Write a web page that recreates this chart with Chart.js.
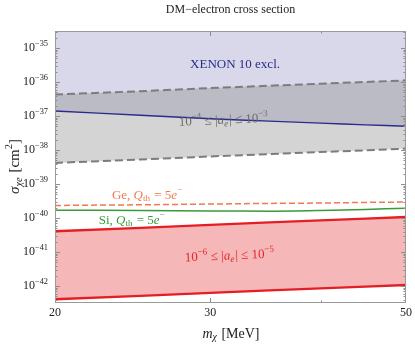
<!DOCTYPE html>
<html><head><meta charset="utf-8">
<script src="https://cdn.jsdelivr.net/npm/chart.js@4/dist/chart.umd.min.js"></script>
<style>html,body{margin:0;padding:0;background:#fff}#wrap{width:415px;height:345px}</style>
</head><body><div id="wrap"><canvas id="c" width="415" height="345"></canvas></div>
<script>
// Dark-matter mass grid (MeV)
const masses = [20, 25, 30, 35, 40, 45, 50];
// Cross sections (cm^2)
const xenonLimit = [1.41e-37, 1.05e-37, 8.32e-38, 7.08e-38, 6.17e-38, 5.50e-38, 5.01e-38];
const grayUpper  = [4.27e-37, 5.37e-37, 6.61e-37, 7.76e-37, 8.91e-37, 1.00e-36, 1.12e-36];
const grayLower  = [4.17e-39, 5.25e-39, 6.46e-39, 7.59e-39, 8.71e-39, 9.77e-39, 1.10e-38];
const geReach    = [2.34e-40, 2.45e-40, 2.57e-40, 2.69e-40, 2.75e-40, 2.88e-40, 2.95e-40];
const siReach    = [1.70e-40, 1.66e-40, 1.62e-40, 1.58e-40, 1.66e-40, 1.78e-40, 1.95e-40];
const redUpper   = [4.07e-41, 5.13e-41, 6.31e-41, 7.41e-41, 8.51e-41, 9.55e-41, 1.07e-40];
const redLower   = [4.07e-43, 5.13e-43, 6.31e-43, 7.41e-43, 8.51e-43, 9.55e-43, 1.07e-42];
// Axis ticks
const xTicks = [20, 30, 50];
const yTickExps = [-42, -41, -40, -39, -38, -37, -36, -35];

const pts = arr => masses.map((m, i) => ({x: m, y: arr[i]}));
const SERIF = '"Liberation Serif", "DejaVu Serif", serif';

function drawRich(ctx, segs, cx, cy, angle, size, color, align) {
  ctx.save();
  ctx.translate(cx, cy);
  ctx.rotate(angle * Math.PI / 180);
  ctx.fillStyle = color;
  ctx.textBaseline = 'middle';
  ctx.textAlign = 'left';
  const fontFor = s => {
    const sz = (s.sub || s.sup) ? size * 0.7 : size;
    return (s.it ? 'italic ' : '') + sz + 'px ' + SERIF;
  };
  let w = 0;
  segs.forEach(s => { ctx.font = fontFor(s); s.w = ctx.measureText(s.t).width; w += s.w; });
  let x = align === 'right' ? -w : (align === 'left' ? 0 : -w / 2);
  segs.forEach(s => {
    ctx.font = fontFor(s);
    let dy = 0;
    if (s.sup) dy = -size * 0.38;
    if (s.sub) dy = size * 0.28;
    ctx.fillText(s.t, x, dy);
    x += s.w + (s.sub ? 1 : 0);
  });
  ctx.restore();
}

const decor = {
  id: 'decor',
  afterDatasetsDraw(chart) {
    const {ctx, chartArea: a, scales: {x, y}} = chart;
    ctx.save();
    ctx.strokeStyle = '#8c8c8c';
    ctx.lineWidth = 1;
    // y ticks (inside, both sides)
    for (let e = -43; e <= -35; e++) {
      for (let k = 1; k <= 9; k++) {
        const v = k * Math.pow(10, e);
        const py = y.getPixelForValue(v);
        if (py < a.top - 0.5 || py > a.bottom + 0.5) continue;
        const len = k === 1 ? 5 : 2.5;
        ctx.beginPath();
        ctx.moveTo(a.left, Math.round(py) + 0.5); ctx.lineTo(a.left + len, Math.round(py) + 0.5);
        ctx.moveTo(a.right, Math.round(py) + 0.5); ctx.lineTo(a.right - len, Math.round(py) + 0.5);
        ctx.stroke();
      }
    }
    // x ticks
    [[30, 5], [40, 2.5]].forEach(([v, len]) => {
      const px = Math.round(x.getPixelForValue(v)) + 0.5;
      ctx.beginPath();
      ctx.moveTo(px, a.bottom); ctx.lineTo(px, a.bottom - len);
      ctx.moveTo(px, a.top); ctx.lineTo(px, a.top + len);
      ctx.stroke();
    });
    // frame
    ctx.strokeStyle = '#9a9a9a';
    ctx.strokeRect(Math.round(a.left) + 0.5, Math.round(a.top) + 0.5, Math.round(a.right - a.left) - 1, Math.round(a.bottom - a.top) - 1);
    ctx.restore();

    // y tick labels
    yTickExps.forEach(e => {
      const py = y.getPixelForValue(Math.pow(10, e));
      drawRich(ctx, [{t: '10'}, {t: '\u2212' + Math.abs(e), sup: true}], 48, py, 0, 12, '#222', 'right');
    });
    // axis titles
    drawRich(ctx, [{t: 'm', it: true}, {t: '\u03c7', it: true, sub: true}, {t: ' [MeV]'}],
      (a.left + a.right) / 2, 334, 0, 14, '#222');
    drawRich(ctx, [{t: '\u03c3', it: true}, {t: '\u03c7e', it: true, sub: true}, {t: ' [cm'}, {t: '2', sup: true}, {t: ']'}],
      15, (a.top + a.bottom) / 2, -90, 15, '#222');

    // annotations (placed in data coordinates)
    const P = (m, v) => [x.getPixelForValue(m), y.getPixelForValue(v)];
    let p = P(32.0, 3.3e-36);
    drawRich(ctx, [{t: 'XENON 10 excl.'}], p[0], p[1], 0, 13, '#2b2b8c');
    p = P(31.0, 7.4e-38);
    drawRich(ctx, [{t: '10'}, {t: '\u22124', sup: true}, {t: ' \u2264 |'}, {t: 'a', it: true}, {t: 'e', it: true, sub: true}, {t: '| \u2264 10'}, {t: '\u22123', sup: true}],
      p[0], p[1], -2.5, 13, '#6a6a6a');
    p = P(31.5, 7.6e-42);
    drawRich(ctx, [{t: '10'}, {t: '\u22126', sup: true}, {t: ' \u2264 |'}, {t: 'a', it: true}, {t: 'e', it: true, sub: true}, {t: '| \u2264 10'}, {t: '\u22125', sup: true}],
      p[0], p[1], -2.5, 13, '#e8262b');
    p = P(25.4, 4.6e-40);
    drawRich(ctx, [{t: 'Ge, '}, {t: 'Q', it: true}, {t: 'th', sub: true}, {t: ' = 5'}, {t: 'e', it: true}, {t: '\u2212', sup: true}],
      p[0], p[1], 0, 13, '#f2784f');
    p = P(24.4, 8.6e-41);
    drawRich(ctx, [{t: 'Si, '}, {t: 'Q', it: true}, {t: 'th', sub: true}, {t: ' = 5'}, {t: 'e', it: true}, {t: '\u2212', sup: true}],
      p[0], p[1], 0, 13, '#3a9a3a');
  }
};

const chart = new Chart(document.getElementById('c'), {
  type: 'line',
  data: {
    datasets: [
      {data: pts(siReach), borderColor: '#3a9a3a', borderWidth: 1.5, fill: false, tension: 0.3},
      {data: pts(geReach), borderColor: '#f2784f', borderWidth: 1.5, borderDash: [6, 3], fill: false},
      {data: pts(redUpper), borderColor: '#e41e24', borderWidth: 2.3, fill: '+1', backgroundColor: '#f5b7b7'},
      {data: pts(redLower), borderColor: '#e41e24', borderWidth: 2.3, fill: false},
      {data: pts(grayUpper), borderColor: '#7c7c7c', borderWidth: 2, borderDash: [8, 4], fill: '+1', backgroundColor: 'rgba(135,135,135,0.36)'},
      {data: pts(grayLower), borderColor: '#7c7c7c', borderWidth: 2, borderDash: [8, 4], fill: false},
      {data: pts(xenonLimit), borderColor: '#2b2b8c', borderWidth: 1.4, fill: 'end', backgroundColor: '#d8d8ea', tension: 0.4}
    ]
  },
  options: {
    responsive: false,
    animation: false,
    devicePixelRatio: 1,
    layout: {padding: {left: 0, right: 7, top: 0, bottom: 0}},
    elements: {point: {radius: 0}},
    plugins: {
      filler: {drawTime: 'beforeDatasetsDraw'},
      legend: {display: false},
      tooltip: {enabled: false},
      title: {display: true, text: 'DM\u2212electron cross section', fullSize: false,
        color: '#222', font: {family: SERIF, size: 12, weight: 'normal'}, padding: {top: 3, bottom: 13.6}}
    },
    scales: {
      x: {
        type: 'logarithmic', min: 20, max: 50,
        grid: {display: false, drawTicks: false}, border: {display: false},
        afterBuildTicks: s => { s.ticks = xTicks.map(v => ({value: v})); },
        afterFit: s => { s.height = 42; },
        ticks: {autoSkip: false, maxRotation: 0, padding: 3, color: '#222',
          font: {family: SERIF, size: 12}, callback: v => String(v)}
      },
      y: {
        type: 'logarithmic', min: 3.1623e-43, max: 3.1623e-35,
        grid: {display: false, drawTicks: false}, border: {display: false},
        ticks: {display: false},
        afterFit: s => { s.width = 55; }
      }
    }
  },
  plugins: [decor]
});
</script></body></html>
